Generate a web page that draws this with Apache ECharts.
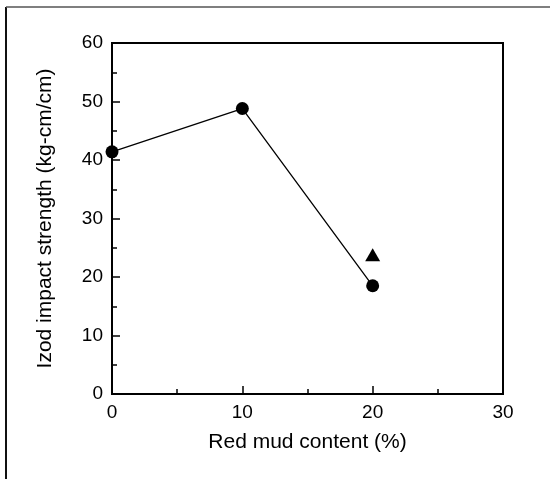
<!DOCTYPE html>
<html>
<head>
<meta charset="utf-8">
<script src="https://cdn.jsdelivr.net/npm/echarts@6/dist/echarts.min.js"></script>
<style>
    html, body { margin: 0; padding: 0; background: #fff; }
    #main { width: 556px; height: 479px; }
</style>
</head>
<body>
<div id="main"></div>
<script>
    // red mud content (%) and Izod values
    var redMud = [0, 10, 20];
    var izod = [41.4, 48.8, 18.5];
    var triangleMud = [20];
    var triangleIzod = [23.8];

    var xTicks = [0, 10, 20, 30];
    var yTicks = [0, 10, 20, 30, 40, 50, 60];

    function pairs(xs, ys) {
        var out = [];
        for (var i = 0; i < xs.length; i++) out.push([xs[i], ys[i]]);
        return out;
    }

    var font = '"Liberation Sans", Arial, sans-serif';

    function init() {
        var myChart = echarts.init(document.getElementById('main'));
        var option = {
            backgroundColor: '#fff',
            animation: false,
            grid: {
                left: 112, right: 53, top: 43, bottom: 85,
                show: true,
                borderColor: '#000',
                borderWidth: 2
            },
            xAxis: {
                type: 'value',
                min: xTicks[0],
                max: xTicks[xTicks.length - 1],
                interval: 10,
                name: 'Red mud content (%)',
                nameLocation: 'middle',
                nameGap: 38,
                nameTextStyle: { color: '#000', fontSize: 21, fontFamily: font },
                axisLine: { lineStyle: { color: '#000', width: 2 } },
                axisTick: { inside: true, length: 8, lineStyle: { color: '#000', width: 1.5 } },
                minorTick: { show: true, splitNumber: 2, length: 5, lineStyle: { color: '#000', width: 1.5 } },
                axisLabel: { color: '#000', fontSize: 19, fontFamily: font, margin: 9 },
                splitLine: { show: false }
            },
            yAxis: {
                type: 'value',
                min: yTicks[0],
                max: yTicks[yTicks.length - 1],
                interval: 10,
                name: 'Izod impact strength (kg-cm/cm)',
                nameLocation: 'middle',
                nameGap: 56,
                nameTextStyle: { color: '#000', fontSize: 21, fontFamily: font },
                axisLine: { lineStyle: { color: '#000', width: 2 } },
                axisTick: { inside: true, length: 8, lineStyle: { color: '#000', width: 1.5 } },
                minorTick: { show: true, splitNumber: 2, length: 5, lineStyle: { color: '#000', width: 1.5 } },
                axisLabel: { color: '#000', fontSize: 19, fontFamily: font, margin: 9 },
                splitLine: { show: false }
            },
            graphic: [
                { type: 'line', shape: { x1: 6, y1: 7, x2: 6, y2: 479 }, style: { stroke: '#111', lineWidth: 2 } },
                { type: 'line', shape: { x1: 6, y1: 7, x2: 550, y2: 7 }, style: { stroke: '#555', lineWidth: 1.5 } }
            ],
            series: [
                {
                    name: 'circle',
                    type: 'line',
                    data: pairs(redMud, izod),
                    clip: false,
                    symbol: 'circle',
                    symbolSize: 13,
                    itemStyle: { color: '#000' },
                    lineStyle: { color: '#000', width: 1.3 }
                },
                {
                    name: 'triangle',
                    type: 'scatter',
                    data: pairs(triangleMud, triangleIzod),
                    clip: false,
                    symbol: 'triangle',
                    symbolSize: [15, 13],
                    itemStyle: { color: '#000', opacity: 1 }
                }
            ]
        };
        myChart.setOption(option);
    }

    init();
</script>
</body>
</html>
